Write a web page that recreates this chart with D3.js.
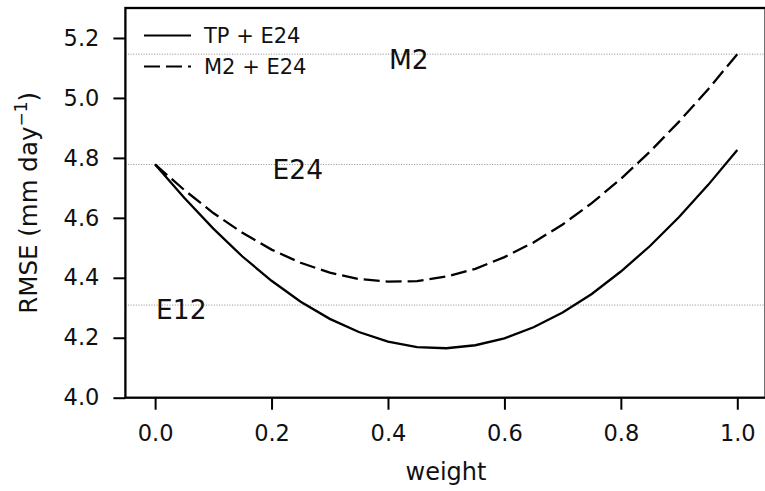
<!DOCTYPE html>
<html>
<head>
<meta charset="utf-8">
<script src="https://cdn.jsdelivr.net/npm/d3@7"></script>
<style>
  html, body { margin: 0; padding: 0; background: #fff; }
  svg { display: block; font-family: "DejaVu Sans", sans-serif; }
</style>
</head>
<body>
<svg id="chart" width="765" height="491"></svg>
<script>
// Weights at which the blended RMSE was evaluated
const weights = [0.00, 0.05, 0.10, 0.15, 0.20, 0.25, 0.30, 0.35, 0.40, 0.45, 0.50,
                 0.55, 0.60, 0.65, 0.70, 0.75, 0.80, 0.85, 0.90, 0.95, 1.00];

// RMSE (mm/day) for TP blended with E24
const tpE24 = [4.778, 4.667, 4.564, 4.471, 4.390, 4.320, 4.263, 4.219, 4.187, 4.169, 4.165,
               4.175, 4.198, 4.235, 4.284, 4.346, 4.421, 4.506, 4.603, 4.710, 4.826];

// RMSE (mm/day) for M2 blended with E24
const m2E24 = [4.778, 4.693, 4.616, 4.550, 4.494, 4.450, 4.417, 4.396, 4.387, 4.389, 4.404,
               4.430, 4.469, 4.518, 4.578, 4.649, 4.730, 4.821, 4.921, 5.029, 5.146];

// Single-model reference RMSE levels
const refNames  = ["M2", "E24", "E12"];
const refValues = [5.146, 4.778, 4.309];
const refLabelX = [0.4, 0.2, 0.0];

const seriesNames = ["TP + E24", "M2 + E24"];
const xTicks = [0.0, 0.2, 0.4, 0.6, 0.8, 1.0];
const yTicks = [4.0, 4.2, 4.4, 4.6, 4.8, 5.0, 5.2];

const svg = d3.select("#chart");
const plotLeft = 125.4, plotRight = 765.6, plotTop = 8, plotBottom = 397.7;

const x = d3.scaleLinear().domain([-0.05, 1.05]).range([plotLeft + 0.6, plotRight + 0.8]);
const y = d3.scaleLinear().domain([4.0, 5.3]).range([plotBottom, plotTop]);

// Horizontal reference lines
svg.append("g").selectAll("line").data(refValues).join("line")
  .attr("x1", plotLeft).attr("x2", plotRight)
  .attr("y1", d => y(d)).attr("y2", d => y(d))
  .attr("stroke", "#8a8a8a").attr("stroke-width", 0.9)
  .attr("stroke-dasharray", "1.1,1.5");

// Reference labels
svg.append("g").selectAll("text").data(refNames).join("text")
  .attr("x", (d, i) => x(refLabelX[i]) + 1)
  .attr("y", (d, i) => y(refValues[i] - 0.048))
  .attr("font-size", 26.5).attr("fill", "#111")
  .text(d => d);

// Curves
const line = d3.line()
  .x((d, i) => x(weights[i]))
  .y(d => y(d));

svg.append("path").datum(tpE24)
  .attr("d", line).attr("fill", "none")
  .attr("stroke", "#000").attr("stroke-width", 2.3);

svg.append("path").datum(m2E24)
  .attr("d", line).attr("fill", "none")
  .attr("stroke", "#000").attr("stroke-width", 2.3)
  .attr("stroke-dasharray", "16,6");

// Axes
const xAxis = d3.axisBottom(x).tickValues(xTicks).tickFormat(d3.format(".1f"))
  .tickSize(12).tickPadding(15);
const yAxis = d3.axisLeft(y).tickValues(yTicks).tickFormat(d3.format(".1f"))
  .tickSize(12).tickPadding(14);

const gx = svg.append("g").attr("transform", `translate(0,${plotBottom})`).call(xAxis);
const gy = svg.append("g").attr("transform", `translate(${plotLeft},0)`).call(yAxis);
[gx, gy].forEach(g => {
  g.select(".domain").remove();
  g.selectAll(".tick line").attr("stroke", "#000").attr("stroke-width", 2);
  g.selectAll(".tick text").attr("font-size", 22.5).attr("fill", "#111")
    .attr("font-family", "DejaVu Sans, sans-serif");
});

// Frame
svg.append("rect")
  .attr("x", plotLeft).attr("y", plotTop)
  .attr("width", plotRight - plotLeft).attr("height", plotBottom - plotTop)
  .attr("fill", "none").attr("stroke", "#000").attr("stroke-width", 2.3);

// Axis titles
svg.append("text")
  .attr("x", 446).attr("y", 480)
  .attr("text-anchor", "middle").attr("font-size", 24).attr("fill", "#111")
  .text("weight");

const yl = svg.append("text")
  .attr("transform", `translate(36.5,${(plotTop + plotBottom) / 2}) rotate(-90)`)
  .attr("text-anchor", "middle").attr("font-size", 24.5).attr("fill", "#111");
yl.append("tspan").text("RMSE (mm day");
yl.append("tspan").attr("baseline-shift", "super").attr("font-size", 17).text("\u22121");
yl.append("tspan").text(")");

// Legend
const legend = svg.append("g");
seriesNames.forEach((name, i) => {
  const ly = 35.5 + i * 31;
  legend.append("line")
    .attr("x1", 144).attr("x2", 191).attr("y1", ly).attr("y2", ly)
    .attr("stroke", "#000").attr("stroke-width", 2.2)
    .attr("stroke-dasharray", i === 1 ? "16,6" : null);
  legend.append("text")
    .attr("x", 204).attr("y", ly + 7.5)
    .attr("font-size", 21).attr("fill", "#111")
    .text(name);
});
</script>
</body>
</html>
